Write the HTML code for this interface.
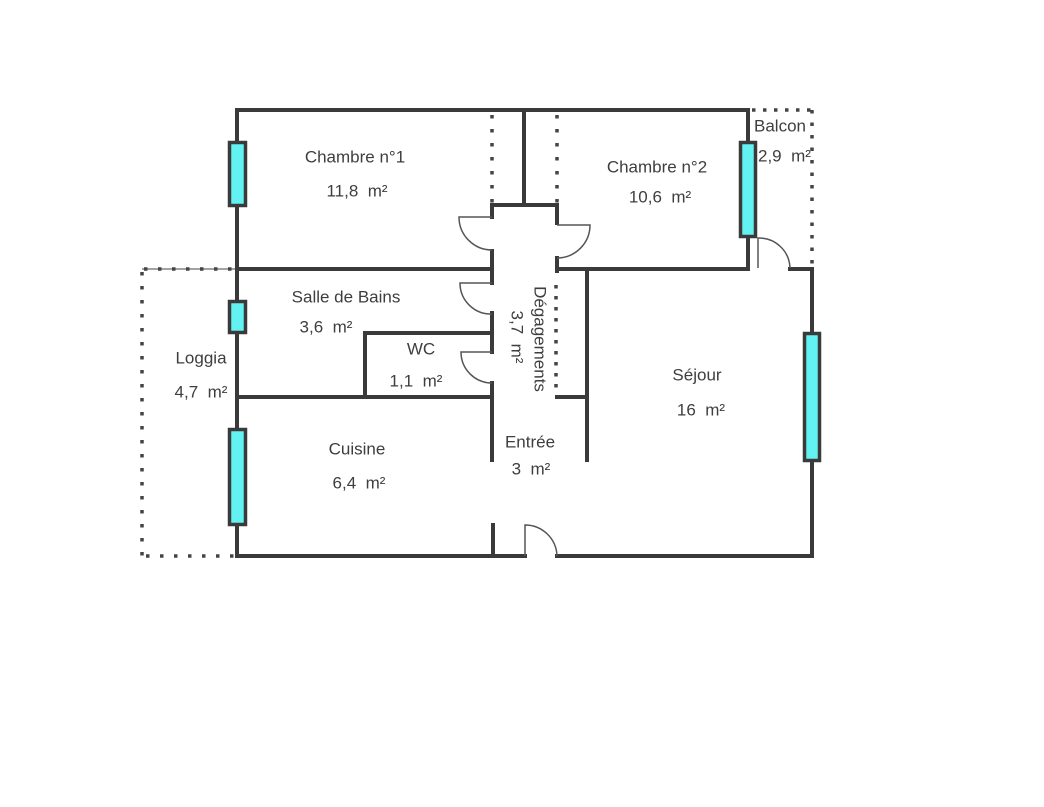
<!DOCTYPE html>
<html><head><meta charset="utf-8"><style>
html,body{margin:0;padding:0;background:#fff;}
svg{display:block;}
text{font-family:"Liberation Sans",sans-serif;font-size:17px;fill:#3e3e3e;}
</style></head><body>
<svg width="1044" height="807" viewBox="0 0 1044 807" xmlns="http://www.w3.org/2000/svg">
<rect width="1044" height="807" fill="#fff"/>
<!-- dotted lines -->
<g stroke="#444" stroke-width="3.5" fill="none">
<line x1="492" y1="115" x2="492" y2="203" stroke-dasharray="3.5 10.5"/>
<line x1="557" y1="115" x2="557" y2="203" stroke-dasharray="3.5 10.5"/>
<line x1="752" y1="110" x2="812" y2="110" stroke-dasharray="3.5 7.5"/>
<line x1="812" y1="110" x2="812" y2="268" stroke-dasharray="3.5 9"/>
<line x1="142" y1="272" x2="142" y2="556" stroke-dasharray="3.5 10.5"/>
<line x1="146" y1="556" x2="237" y2="556" stroke-dasharray="3.5 10.5"/>
<line x1="556" y1="285" x2="556" y2="390" stroke-dasharray="3.5 7.5"/>
</g>
<g stroke="#444" fill="none">
<line x1="142" y1="269" x2="237" y2="269" stroke-width="1"/>
<line x1="144" y1="269" x2="237" y2="269" stroke-width="3.5" stroke-dasharray="3.5 10.5"/>
</g>
<!-- walls -->
<g stroke="#3a3a3a" stroke-width="4" fill="none" stroke-linecap="square">
<line x1="237" y1="110" x2="748" y2="110"/>
<line x1="237" y1="110" x2="237" y2="556"/>
<line x1="237" y1="269" x2="492" y2="269"/>
<line x1="524" y1="110" x2="524" y2="205"/>
<line x1="492" y1="205" x2="557" y2="205"/>
<line x1="492" y1="205" x2="492" y2="217"/>
<line x1="492" y1="251" x2="492" y2="283"/>
<line x1="492" y1="313" x2="492" y2="352"/>
<line x1="492" y1="383" x2="492" y2="460"/>
<line x1="493" y1="525" x2="493" y2="556"/>
<line x1="557" y1="205" x2="557" y2="223"/>
<line x1="557" y1="258" x2="557" y2="271"/>
<line x1="557" y1="269" x2="748" y2="269"/>
<line x1="748" y1="110" x2="748" y2="269"/>
<line x1="587" y1="269" x2="587" y2="460"/>
<line x1="557" y1="397" x2="587" y2="397"/>
<line x1="237" y1="397" x2="492" y2="397"/>
<line x1="365" y1="333" x2="492" y2="333"/>
<line x1="365" y1="333" x2="365" y2="397"/>
<line x1="790" y1="269" x2="812" y2="269"/>
<line x1="812" y1="269" x2="812" y2="556"/>
<line x1="237" y1="556" x2="525" y2="556"/>
<line x1="557" y1="556" x2="812" y2="556"/>
</g>
<!-- doors -->
<g stroke="#555" stroke-width="1.5" fill="none">
<path d="M492,217 L459,217 A33,33 0 0 0 492,250"/>
<path d="M557,225 L590,225 A33,33 0 0 1 557,258"/>
<path d="M492,283 L460,283 A31,31 0 0 0 492,314"/>
<path d="M492,352 L461,352 A31,31 0 0 0 492,383"/>
<path d="M758,268 L758,238 A31,31 0 0 1 790,268"/>
<path d="M525,556 L525,525 A32,32 0 0 1 557,556"/>
</g>
<!-- windows -->
<g fill="#62f2f2" stroke="#3a3a3a" stroke-width="3.5">
<rect x="229.5" y="142.5" width="16" height="63"/>
<rect x="229.5" y="301.5" width="16" height="31"/>
<rect x="229.5" y="429.5" width="16" height="95"/>
<rect x="740.5" y="142.5" width="15" height="94"/>
<rect x="804.5" y="333.5" width="15" height="127"/>
</g>
<!-- labels -->
<g text-anchor="middle" dominant-baseline="central">
<text x="355" y="157">Chambre n°1</text>
<text x="357" y="191">11,8&#160;&#160;m²</text>
<text x="657" y="167">Chambre n°2</text>
<text x="660" y="197">10,6&#160;&#160;m²</text>
<text x="346" y="297">Salle de Bains</text>
<text x="326" y="327">3,6&#160;&#160;m²</text>
<text x="421" y="349">WC</text>
<text x="416" y="381">1,1&#160;&#160;m²</text>
<text x="201" y="358">Loggia</text>
<text x="201" y="392">4,7&#160;&#160;m²</text>
<text x="697" y="375">Séjour</text>
<text x="701" y="410">16&#160;&#160;m²</text>
<text x="357" y="449">Cuisine</text>
<text x="359" y="483">6,4&#160;&#160;m²</text>
<text x="530" y="442">Entrée</text>
<text x="531" y="469">3&#160;&#160;m²</text>
<text transform="translate(540,339) rotate(90)">Dégagements</text>
<text transform="translate(517,337) rotate(90)">3,7&#160;&#160;m²</text>
</g>
<g dominant-baseline="central">
<text x="754" y="126">Balcon</text>
<text x="758" y="156">2,9&#160;&#160;m²</text>
</g>
</svg>
</body></html>
